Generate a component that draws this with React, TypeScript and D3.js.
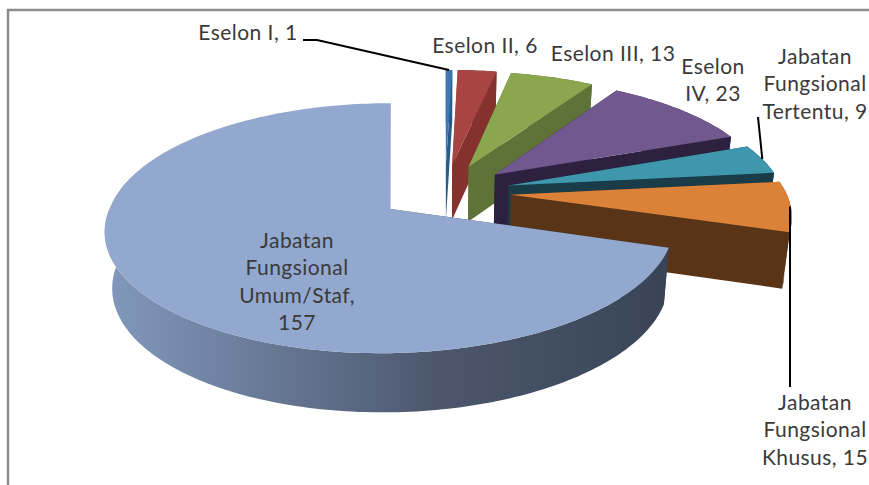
import React from 'react';
import * as d3 from 'd3';

const categories = [
  'Eselon I',
  'Eselon II',
  'Eselon III',
  'Eselon IV',
  'Jabatan Fungsional Tertentu',
  'Jabatan Fungsional Khusus',
  'Jabatan Fungsional Umum/Staf',
];
const values = [1, 6, 13, 23, 9, 15, 157];

const topColors = ['#3e78b3', '#a84543', '#8aa64f', '#71588f', '#3f97ae', '#db8238', '#92a8cf'];
const sideColors = ['#2a5a8a', '#85322f', '#5f7238', '#2e2140', '#1a3c48', '#5a3416', 'url(#rimFade)'];

const labelLines = [
  ['Eselon I, 1'],
  ['Eselon II, 6'],
  ['Eselon III, 13'],
  ['Eselon', 'IV, 23'],
  ['Jabatan', 'Fungsional', 'Tertentu, 9'],
  ['Jabatan', 'Fungsional', 'Khusus, 15'],
  ['Jabatan', 'Fungsional', 'Umum/Staf,', '157'],
];
const labelX = [248, 485, 613, 713, 815, 815, 297];
const labelY = [40, 53, 61, 74, 64, 410, 248];

// camera fitted by eye: centre of the whole pie on screen, radius, tilt, perspective
const cx = 445;
const cy = 192;
const radius = 275;
const tilt = 0.425;
const persp = 0.151;
const explode = 0.24;
const shrink = 0.978;
const mainIndex = values.length - 1;

type Pt = [number, number, number];

const project = (u: number, v: number): Pt => {
  const p = 1 / (1 - persp * v);
  return [cx + radius * u * p, cy + radius * tilt * v * p, p];
};
const lower = ([x, y, p]: Pt): Pt => [cx + (x - cx) * shrink, y + 38 + 17.5 * p, p];

const slices = d3.pie<number>().sort(null)(values);
const line = d3.line<Pt>().x((d) => d[0]).y((d) => d[1]);
const closed = (pts: Pt[]) => line(pts) + 'Z';

const geometry = slices.map((s, i) => {
  const mid = (s.startAngle + s.endAngle) / 2;
  const ox = explode * Math.sin(mid);
  const oy = -explode * Math.cos(mid);
  const rimAt = (a: number): Pt => {
    const u = ox + Math.sin(a);
    const v = oy - Math.cos(a);
    const pt = project(u, v);
    // the big slice's cut edge stands upright in the picture
    if (i === mainIndex) pt[0] += 7 * Math.min(0, v - oy);
    return pt;
  };
  const steps = Math.max(4, Math.ceil((s.endAngle - s.startAngle) / 0.02));
  const rim = d3.range(steps + 1).map((k) => rimAt(s.startAngle + ((s.endAngle - s.startAngle) * k) / steps));
  const apex = project(ox, oy);
  return { apex, rim, midRim: rimAt(mid) };
});

const leaders: [number, number][][] = [
  [[303, 40], [317, 40], [geometry[0].midRim[0], geometry[0].midRim[1]]],
  [[758, 117], [geometry[4].midRim[0], geometry[4].midRim[1]]],
  [[790, 387], [790, geometry[5].midRim[1]]],
];

export default function App() {
  return (
    <svg
      width={869}
      height={485}
      style={{ position: 'absolute', left: 0, top: 0, background: '#fff' }}
      fontFamily="Lato, 'Open Sans', sans-serif"
    >
      <defs>
        <linearGradient id="rimFade" gradientUnits="userSpaceOnUse" x1={104} x2={660} y1={0} y2={0}>
          <stop offset="0" stopColor="#8299bd" />
          <stop offset="0.6" stopColor="#4c576d" />
          <stop offset="1" stopColor="#394557" />
        </linearGradient>
      </defs>
      <path d="M8,485V10H869" fill="none" stroke="#8c8c8c" strokeWidth={2.5} />
      {geometry.map((g, i) => {
        const isMain = i === mainIndex;
        // back part of the big slice's wall never shows, so it is left out
        const wall = isMain ? g.rim.filter((d) => d[1] > g.apex[1]) : g.rim;
        const first = g.rim[0];
        const last = g.rim[g.rim.length - 1];
        return (
          <g key={categories[i]}>
            <path d={closed([g.apex, first, lower(first), lower(g.apex)])} fill={sideColors[i]} />
            {!isMain && <path d={closed([g.apex, last, lower(last), lower(g.apex)])} fill={sideColors[i]} />}
            <path d={closed([...wall, ...wall.map(lower).reverse()])} fill={sideColors[i]} />
            <path d={closed([g.apex, ...g.rim])} fill={topColors[i]} />
          </g>
        );
      })}
      {leaders.map((pts, i) => (
        <path key={i} d={d3.line()(pts) ?? ''} fill="none" stroke="#000" strokeWidth={2} />
      ))}
      {labelLines.map((lines, i) => (
        <text key={i} textAnchor="middle" fontSize={21} letterSpacing={0.45} fill="#3a3a3a">
          {lines.map((t, j) => (
            <tspan key={j} x={labelX[i]} y={labelY[i] + j * 27.3}>
              {t}
            </tspan>
          ))}
        </text>
      ))}
    </svg>
  );
}
